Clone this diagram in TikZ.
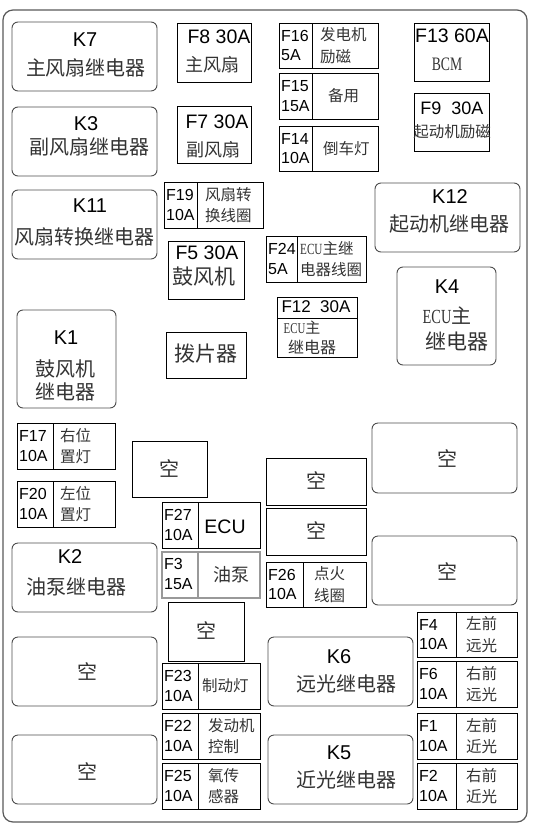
\documentclass[tikz,border=0pt]{standalone}
\usepackage{fontspec}
\setmainfont{Liberation Sans}
\newfontfamily\cjk{Noto Sans CJK SC}
\newfontfamily\narrowserif[FakeStretch=0.72]{Liberation Serif}

\begin{document}
\begin{tikzpicture}[x=1pt, y=-1pt,
    every node/.style={inner sep=0pt},
    relay/.style={draw=black!70, line width=0.9pt, rounded corners=6pt},
    fbox/.style={draw=black, line width=0.9pt},
    gbox/.style={draw=black!40, line width=1.1pt},
    kname/.style={font=\fontsize{20}{24}\selectfont},
    fname/.style={font=\fontsize{19.5}{23}\selectfont},
    cn/.style={font=\fontsize{20}{24}\selectfont\cjk, text=black!80},
    cnmid/.style={font=\fontsize{18}{22}\selectfont\cjk, text=black!80},
    cnbig/.style={font=\fontsize{21}{25}\selectfont\cjk, text=black!80},
    num/.style={font=\fontsize{16}{19.5}\selectfont, align=left},
    cnsm/.style={font=\fontsize{15.5}{21.5}\selectfont\cjk, text=black!80, align=left},
    serif/.style={font=\fontsize{19}{22}\selectfont\narrowserif, text=black!80},
]
\useasboundingbox (0,0) rectangle (533,828);

% outer frame
\draw[draw=black!65, line width=1.2pt, rounded corners=10pt] (3,10) rectangle (527,822);

% relay sockets
\foreach \n/\xa/\ya/\xb/\yb in {k7/12/22/157/91, k3/12/107/157/176, k11/12/190/157/259,
    k1/17/310/116/408, k12/375/183/520/252, k4/397/267/496/365, k2/12/543/157/612,
    k6/268/637/413/706, k5/268/735/413/804, e1/372/423/517/493, e2/372/536/517/605,
    e3/12/637/157/706, e4/12/735/157/804}{
    \node[relay, minimum width={\xb-\xa}, minimum height={\yb-\ya}] (\n)
        at ({(\xa+\xb)/2},{(\ya+\yb)/2}) {};
}

% relay labels
\foreach \n/\k/\kx/\ky/\t/\tx/\ty in {k7/K7/85/40/主风扇继电器/86/68,
    k3/K3/86/124/副风扇继电器/90/147, k11/K11/90/206/风扇转换继电器/85/237,
    k12/K12/450/197/起动机继电器/449/224, k2/K2/70/557/油泵继电器/77/587,
    k6/K6/339/657/远光继电器/346/684, k5/K5/339/753/近光继电器/346/780}{
    \node[kname] (\n-id) at (\kx,\ky) {\k};
    \node[cn] (\n-use) at (\tx,\ty) {\t};
}
\node[kname] (k1-id) at (66,338) {K1};
\node[cn] (k1-use) at (65,369) {鼓风机};
\node[cn] (k1-use2) at (65,392) {继电器};
\node[kname] (k4-id) at (447,287) {K4};
\node[cn] (k4-use) at (447,316) {{\narrowserif ECU}主};
\node[cnbig] (k4-use2) at (457,342) {继电器};
\foreach \n/\x/\y in {e1/447/458, e2/447/571, e3/87/671, e4/87/771}
    \node[cn] (\n-txt) at (\x,\y) {空};

% empty fuse places
\foreach \n/\xa/\ya/\xb/\yb in {s1/132/441/207/497, s2/266/458/366/505,
    s3/266/508/366/555, s4/168/602/244/661}{
    \draw[fbox] (\xa,\ya) rectangle (\xb,\yb);
    \node[cn] (\n) at ({(\xa+\xb)/2},{(\ya+\yb)/2-1}) {空};
}

% large fuses
\draw[fbox] (177,23) rectangle (251,82);
\node[fname] (f8-amp) at (219,37) {F8 30A};
\node[cnmid] (f8-use) at (212,65) {主风扇};
\draw[fbox] (177,106) rectangle (251,163);
\node[fname] (f7-amp) at (217,122) {F7 30A};
\node[cnmid] (f7-use) at (213,150) {副风扇};
\draw[fbox] (414,23) rectangle (489,81);
\node[fname] (f13-amp) at (452,36) {F13 60A};
\node[serif] (f13-use) at (447,64) {BCM};
\draw[fbox] (414,93) rectangle (489,151);
\node[fname, font=\fontsize{18}{22}\selectfont] (f9-amp) at (452,108) {F9\ \ 30A};
\node[cnsm] (f9-use) at (452,132) {起动机励磁};
\draw[fbox] (168,241) rectangle (244,299);
\node[fname] (f5-amp) at (207,253) {F5 30A};
\node[cnbig] (f5-use) at (204,277) {鼓风机};
\draw[fbox] (166,332) rectangle (246,378);
\node[cnbig] (flap) at (206,354) {拨片器};
\draw[fbox] (277,297) rectangle (357,357) (277,318) -- (357,318);
\node[fname, font=\fontsize{17}{20}\selectfont] (f12-amp) at (316,307) {F12\ \ 30A};
\node[cnsm, font=\fontsize{15}{18}\selectfont\cjk] (f12-use) at (302,328) {{\narrowserif ECU}主};
\node[cnsm, font=\fontsize{16}{18}\selectfont\cjk] (f12-use2) at (312,347) {继电器};

% small fuses: rating left, circuit right
\foreach \n/\xa/\ya/\xb/\yb/\xd/\lt/\rx/\rt in {
    f16/279/23/378/68/312/{F16\\5A}/320/{发电机\\励磁},
    f15/279/73/378/119/312/{F15\\15A}/328/{备用},
    f14/279/126/378/171/312/{F14\\10A}/323/{倒车灯},
    f19/164/182/263/228/197/{F19\\10A}/205/{风扇转\\换线圈},
    f24/266/236/366/282/297/{F24\\5A}/300/{{\narrowserif ECU}主继\\电器线圈},
    f17/17/423/115/469/53/{F17\\10A}/60/{右位\\置灯},
    f20/17/481/115/527/53/{F20\\10A}/60/{左位\\置灯},
    f26/266/562/366/607/303/{F26\\10A}/314/{点火\\线圈},
    f23/162/663/260/709/198/{F23\\10A}/202/{制动灯},
    f22/162/713/260/759/198/{F22\\10A}/208/{发动机\\控制},
    f25/162/763/260/809/198/{F25\\10A}/208/{氧传\\感器},
    f4/417/612/517/657/456/{F4\\10A}/466/{左前\\远光},
    f6/417/661/517/707/456/{F6\\10A}/466/{右前\\远光},
    f1/417/713/517/759/456/{F1\\10A}/466/{左前\\近光},
    f2/417/763/517/809/456/{F2\\10A}/466/{右前\\近光}}{
    \draw[fbox] (\xa,\ya) rectangle (\xb,\yb) (\xd,\ya) -- (\xd,\yb);
    \node[num, anchor=west] (\n-amp) at ({\xa+2},{(\ya+\yb)/2}) {\lt};
    \node[cnsm, anchor=west] (\n-use) at (\rx,{(\ya+\yb)/2}) {\rt};
}
\draw[fbox] (162,502) rectangle (260,548) (198,502) -- (198,548);
\node[num, anchor=west] (f27-amp) at (164,525) {F27\\10A};
\node[fname] (f27-use) at (225,527) {ECU};
\draw[gbox] (162,552) rectangle (260,598) (198,552) -- (198,598);
\node[num, anchor=west] (f3-amp) at (164,574) {F3\\15A};
\node[cnmid] (f3-use) at (231,575) {油泵};
\end{tikzpicture}
\end{document}
